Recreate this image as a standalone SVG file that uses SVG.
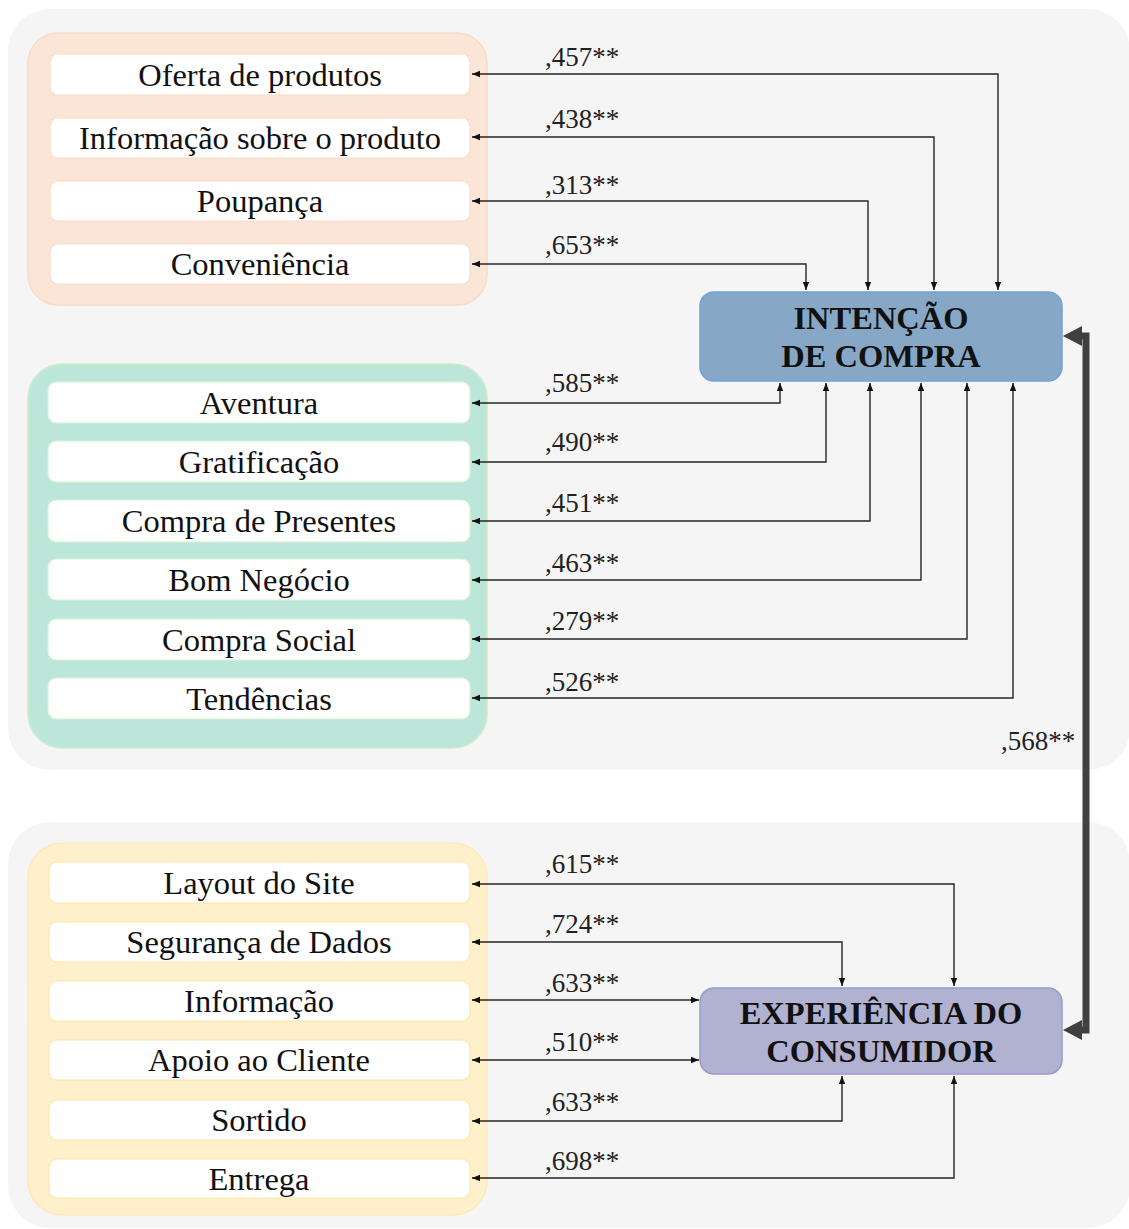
<svg xmlns="http://www.w3.org/2000/svg" width="1129" height="1229" viewBox="0 0 1129 1229">
<style>
.panel{fill:#f5f5f5}
.item{fill:#ffffff;stroke-width:1.2}
.it{font-family:"Liberation Serif",serif;font-size:32.5px;fill:#111;text-anchor:middle}
.lbl{font-family:"Liberation Serif",serif;font-size:27px;fill:#222}
.hd{font-family:"Liberation Serif",serif;font-size:32.5px;font-weight:bold;fill:#111;text-anchor:middle}
.c{fill:none;stroke:#262626;stroke-width:1.4;marker-start:url(#ah);marker-end:url(#ah)}
</style>
<defs>
<marker id="ah" viewBox="0 0 10 10" refX="10" refY="5" markerWidth="8" markerHeight="8" markerUnits="userSpaceOnUse" orient="auto-start-reverse"><path d="M0,1 L10,5 L0,9 z" fill="#111"/></marker>
</defs>
<rect class="panel" x="8" y="9" width="1122" height="761" rx="42"/>
<rect class="panel" x="8" y="822" width="1122" height="406" rx="42"/>

<g id="grp-orange">
<rect x="28" y="33" width="459" height="272" rx="30" fill="#fae5d6" stroke="#f8dcc6" stroke-width="1.5"/>
<g id="n-oferta"><rect class="item" x="50" y="54" width="420" height="41" rx="8" stroke="#f5dcc8"/><text class="it" x="260" y="86">Oferta de produtos</text></g>
<g id="n-info-produto"><rect class="item" x="50" y="118" width="420" height="40" rx="8" stroke="#f5dcc8"/><text class="it" x="260" y="149">Informação sobre o produto</text></g>
<g id="n-poupanca"><rect class="item" x="50" y="181" width="420" height="40" rx="8" stroke="#f5dcc8"/><text class="it" x="260" y="212">Poupança</text></g>
<g id="n-conveniencia"><rect class="item" x="50" y="244" width="420" height="40" rx="8" stroke="#f5dcc8"/><text class="it" x="260" y="275">Conveniência</text></g>
</g>

<g id="grp-green">
<rect x="28" y="364" width="459" height="384" rx="34" fill="#bde6da" stroke="#cdeccb" stroke-width="1.5"/>
<g id="n-aventura"><rect class="item" x="48" y="382" width="422" height="41" rx="8" stroke="#d9f2cf"/><text class="it" x="259" y="414">Aventura</text></g>
<g id="n-gratificacao"><rect class="item" x="48" y="441" width="422" height="41" rx="8" stroke="#d9f2cf"/><text class="it" x="259" y="473">Gratificação</text></g>
<g id="n-presentes"><rect class="item" x="48" y="500" width="422" height="42" rx="8" stroke="#d9f2cf"/><text class="it" x="259" y="532">Compra de Presentes</text></g>
<g id="n-bom-negocio"><rect class="item" x="48" y="559" width="422" height="41" rx="8" stroke="#d9f2cf"/><text class="it" x="259" y="591">Bom Negócio</text></g>
<g id="n-compra-social"><rect class="item" x="48" y="619" width="422" height="41" rx="8" stroke="#d9f2cf"/><text class="it" x="259" y="651">Compra Social</text></g>
<g id="n-tendencias"><rect class="item" x="48" y="678" width="422" height="41" rx="8" stroke="#d9f2cf"/><text class="it" x="259" y="710">Tendências</text></g>
</g>

<g id="grp-yellow">
<rect x="28" y="843" width="459" height="372" rx="34" fill="#fff0cc" stroke="#fde9bd" stroke-width="1.5"/>
<g id="n-layout"><rect class="item" x="49" y="862" width="421" height="41" rx="8" stroke="#fde6a8"/><text class="it" x="259" y="894">Layout do Site</text></g>
<g id="n-seguranca"><rect class="item" x="49" y="922" width="421" height="40" rx="8" stroke="#fde6a8"/><text class="it" x="259" y="953">Segurança de Dados</text></g>
<g id="n-informacao"><rect class="item" x="49" y="981" width="421" height="40" rx="8" stroke="#fde6a8"/><text class="it" x="259" y="1012">Informação</text></g>
<g id="n-apoio"><rect class="item" x="49" y="1040" width="421" height="40" rx="8" stroke="#fde6a8"/><text class="it" x="259" y="1071">Apoio ao Cliente</text></g>
<g id="n-sortido"><rect class="item" x="49" y="1100" width="421" height="40" rx="8" stroke="#fde6a8"/><text class="it" x="259" y="1131">Sortido</text></g>
<g id="n-entrega"><rect class="item" x="49" y="1159" width="421" height="39" rx="8" stroke="#fde6a8"/><text class="it" x="259" y="1190">Entrega</text></g>
</g>

<g id="n-intencao">
<rect x="700" y="292" width="362" height="89" rx="14" fill="#86a8c6" stroke="#70a3d8" stroke-width="1.5"/>
<text class="hd" x="881" y="329">INTENÇÃO</text>
<text class="hd" x="881" y="367">DE COMPRA</text>
</g>

<g id="n-experiencia">
<rect x="700" y="988" width="362" height="86" rx="14" fill="#b1b1d1" stroke="#9a9ac8" stroke-width="1.5"/>
<text class="hd" x="881" y="1024">EXPERIÊNCIA DO</text>
<text class="hd" x="881" y="1062">CONSUMIDOR</text>
</g>

<g id="connectors">
<path class="c" d="M472,74 H998 V290"/>
<path class="c" d="M472,137 H934 V290"/>
<path class="c" d="M472,201 H868 V290"/>
<path class="c" d="M472,264 H806 V290"/>

<path class="c" d="M472,403 H780 V383"/>
<path class="c" d="M472,462 H826 V383"/>
<path class="c" d="M472,521 H870 V383"/>
<path class="c" d="M472,580 H921 V383"/>
<path class="c" d="M472,639 H967 V383"/>
<path class="c" d="M472,698 H1013 V383"/>

<path class="c" d="M472,884 H954 V986"/>
<path class="c" d="M472,942 H842 V986"/>
<path class="c" d="M472,1000 H699"/>
<path class="c" d="M472,1060 H699"/>
<path class="c" d="M472,1121 H842 V1076"/>
<path class="c" d="M472,1178 H954 V1076"/>

<path d="M1080,336 H1086 V1030 H1080" fill="none" stroke="#404040" stroke-width="7"/>
<polygon points="1063,336 1082,326 1082,346" fill="#404040"/>
<polygon points="1063,1030 1082,1020 1082,1040" fill="#404040"/>
</g>

<g id="labels">
<text class="lbl" x="545" y="66">,457**</text>
<text class="lbl" x="545" y="128">,438**</text>
<text class="lbl" x="545" y="194">,313**</text>
<text class="lbl" x="545" y="254">,653**</text>
<text class="lbl" x="545" y="392">,585**</text>
<text class="lbl" x="545" y="451">,490**</text>
<text class="lbl" x="545" y="512">,451**</text>
<text class="lbl" x="545" y="572">,463**</text>
<text class="lbl" x="545" y="630">,279**</text>
<text class="lbl" x="545" y="691">,526**</text>
<text class="lbl" x="1001" y="750">,568**</text>
<text class="lbl" x="545" y="873">,615**</text>
<text class="lbl" x="545" y="933">,724**</text>
<text class="lbl" x="545" y="992">,633**</text>
<text class="lbl" x="545" y="1051">,510**</text>
<text class="lbl" x="545" y="1111">,633**</text>
<text class="lbl" x="545" y="1170">,698**</text>
</g>
</svg>
